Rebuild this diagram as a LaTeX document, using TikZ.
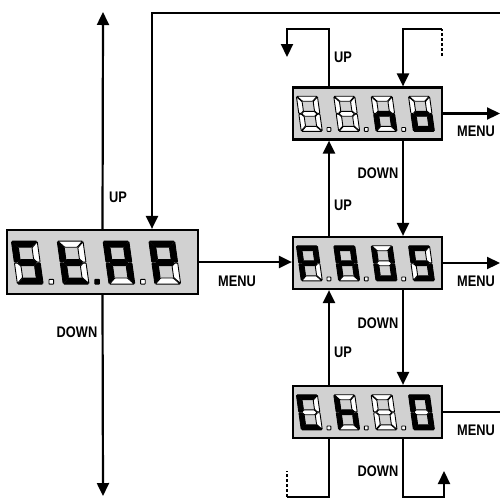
\documentclass[tikz,border=0pt]{standalone}
\usepackage{fontspec}
\usepackage{graphicx}
\setmainfont{Liberation Sans}
\usetikzlibrary{arrows.meta}

\colorlet{segB}{black}
\colorlet{segW}{white}
\colorlet{lcdgray}{black!18}

\tikzset{
  lcd/.style={draw, line width=2.2pt, fill=lcdgray, inner sep=0pt},
  rbox/.style={lcd, minimum width=149pt, minimum height=52pt},
  seg/.style={draw, line width=0.9pt, line join=round, rounded corners=0.5pt},
  lbl/.style={font=\fontsize{12.8}{14}\selectfont\bfseries, inner sep=0pt},
  flow/.style={line width=2.2pt},
  arr/.style={flow, -{Triangle[length=13pt,width=12pt]}},
}

% one digit: index, then segments a b c d e f g (B = lit, W = dark)
\newcommand{\digit}[8]{%
  \begin{scope}[shift={(#1*12.8,0)}, xslant=0.14]
    \filldraw[seg,fill=seg#2] (-0.85,11) -- (6.05,11) -- (4.35,9.3) -- (0.85,9.3) -- cycle;
    \filldraw[seg,fill=seg#3] (4.5,9.15) -- (6.2,10.85) -- (6.2,5.15) -- (5.35,5.15) -- (4.5,6) -- cycle;
    \filldraw[seg,fill=seg#4] (4.5,0.85) -- (6.2,-0.85) -- (6.2,4.85) -- (5.35,4.85) -- (4.5,4) -- cycle;
    \filldraw[seg,fill=seg#5] (-0.85,-1) -- (6.05,-1) -- (4.35,0.7) -- (0.85,0.7) -- cycle;
    \filldraw[seg,fill=seg#6] (0.7,0.85) -- (-1,-0.85) -- (-1,4.85) -- (-0.15,4.85) -- (0.7,4) -- cycle;
    \filldraw[seg,fill=seg#7] (0.7,9.15) -- (-1,10.85) -- (-1,5.15) -- (-0.15,5.15) -- (0.7,6) -- cycle;
    \filldraw[seg,fill=seg#8] (0,5) -- (0.85,5.85) -- (4.35,5.85) -- (5.2,5) -- (4.35,4.15) -- (0.85,4.15) -- cycle;
  \end{scope}}
\newcommand{\dpoint}[2]{\filldraw[seg,fill=seg#2] (#1*12.8+7.95,-1) rectangle ++(1.3,1.3);}
\newcommand{\lab}[1]{\scalebox{1}[1.2]{#1}}

\begin{document}
\begin{tikzpicture}[x=1pt,y=-1pt]
  \useasboundingbox (0,0) rectangle (500,499);

  \node[lcd, minimum width=191pt, minimum height=64pt] (stap) at (102.5,262) {};
  \node[rbox] (no) at (367.5,113.5) {};
  \node[rbox] (pause) at (367.5,263) {};
  \node[rbox] (ch) at (367.5,412) {};

  % displays
  \begin{scope}[shift={(stap.south west)}, shift={(14.6,-14.6)}, yscale=-1, scale=3.58]
    \digit{0}{B}{W}{B}{B}{W}{B}{B}
    \digit{1}{W}{W}{W}{B}{B}{B}{B}
    \digit{2}{B}{B}{B}{W}{B}{B}{B}
    \digit{3}{B}{B}{W}{W}{B}{B}{B}
    \dpoint{0}{W} \dpoint{1}{B} \dpoint{2}{W}
  \end{scope}
  \begin{scope}[shift={(no.south west)}, shift={(11.9,-12.2)}, yscale=-1, scale=2.92]
    \digit{0}{W}{W}{W}{W}{W}{W}{W}
    \digit{1}{W}{W}{W}{W}{W}{W}{W}
    \digit{2}{W}{W}{B}{W}{B}{W}{B}
    \digit{3}{W}{W}{B}{B}{B}{W}{B}
    \dpoint{0}{W} \dpoint{1}{W} \dpoint{2}{W}
  \end{scope}
  \begin{scope}[shift={(pause.south west)}, shift={(11.9,-12.2)}, yscale=-1, scale=2.92]
    \digit{0}{B}{B}{W}{W}{B}{B}{B}
    \digit{1}{B}{B}{B}{W}{B}{B}{B}
    \digit{2}{W}{B}{B}{B}{B}{B}{W}
    \digit{3}{B}{W}{B}{B}{W}{B}{B}
    \dpoint{0}{W} \dpoint{1}{W} \dpoint{2}{W}
  \end{scope}
  \begin{scope}[shift={(ch.south west)}, shift={(11.9,-12.2)}, yscale=-1, scale=2.92]
    \digit{0}{B}{W}{W}{B}{B}{B}{W}
    \digit{1}{W}{W}{B}{W}{B}{B}{B}
    \digit{2}{W}{W}{W}{W}{W}{W}{W}
    \digit{3}{B}{B}{B}{B}{B}{B}{W}
    \dpoint{0}{W} \dpoint{1}{W} \dpoint{2}{W}
  \end{scope}

  \coordinate (L) at (329,0);
  \coordinate (R) at (403,0);
  \coordinate (edge) at (500,0);
  \coordinate (retx) at (152,0);
  \coordinate (upend) at (103,12);
  \coordinate (downend) at (103,496);
  \coordinate (topright) at (500,13);

  \draw[arr] (stap.north) -- (upend);
  \draw[arr] (stap.south) -- (downend);
  \draw[arr] (topright) -| (stap.north -| retx);
  \draw[arr] (stap.east) -- (stap.east -| pause.west);

  \draw[arr] (no.east) -- (no.east -| edge);
  \draw[arr] (pause.east) -- (pause.east -| edge);
  \draw[flow] (ch.east) -- (ch.east -| edge);

  \draw[arr] (pause.north -| L) -- (no.south -| L);
  \draw[arr] (no.south -| R) -- (pause.north -| R);
  \draw[arr] (ch.north -| L) -- (pause.south -| L);
  \draw[arr] (pause.south -| R) -- (ch.north -| R);

  % open ends above and below
  \coordinate (upcorner) at (287,29);
  \coordinate (upout) at (287,57);
  \draw[arr] (no.north -| L) |- (upcorner) -- (upout);
  \coordinate (dncorner) at (442,29);
  \coordinate (dnin) at (442,56);
  \draw[flow, dash pattern=on 3pt off 2pt] (dnin) -- (dncorner);
  \draw[arr] (dncorner) -| (no.north -| R);

  \coordinate (lowleft) at (287,497);
  \coordinate (lowleftin) at (287,471);
  \draw[flow] (ch.south -| L) |- (lowleft);
  \draw[flow, dash pattern=on 3pt off 2pt] (lowleft) -- (lowleftin);
  \coordinate (lowright) at (444,497);
  \coordinate (lowrightout) at (444,471);
  \draw[arr] (ch.south -| R) |- (lowright) -- (lowrightout);

  \node[lbl] (upl) at (118,197) {\lab{UP}};
  \node[lbl] (downl) at (77,332) {\lab{DOWN}};
  \node[lbl] (menul) at (237,281) {\lab{MENU}};
  \node[lbl] (upno) at (343,57) {\lab{UP}};
  \node[lbl] (downno) at (378,173) {\lab{DOWN}};
  \node[lbl] (uppause) at (343,205) {\lab{UP}};
  \node[lbl] (downpause) at (378,323) {\lab{DOWN}};
  \node[lbl] (upch) at (343,352) {\lab{UP}};
  \node[lbl] (downch) at (378,471) {\lab{DOWN}};
  \node[lbl] (menuno) at (476,131) {\lab{MENU}};
  \node[lbl] (menupause) at (476,281) {\lab{MENU}};
  \node[lbl] (menuch) at (476,430) {\lab{MENU}};
\end{tikzpicture}
\end{document}
